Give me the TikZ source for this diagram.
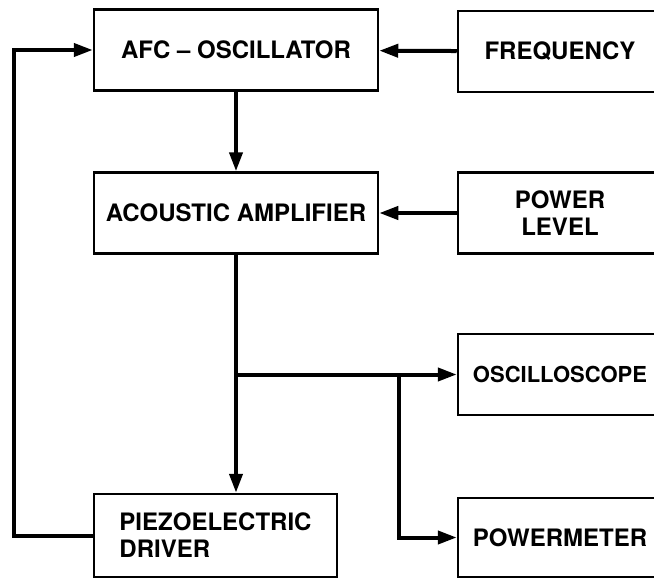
\documentclass[tikz,border=0pt]{standalone}
\usepackage{fontspec}
\setmainfont{TeX Gyre Heros}
\usetikzlibrary{arrows.meta}
\begin{document}
\begin{tikzpicture}[x=1pt,y=-1pt,>={Triangle[length=19pt,width=13pt]},
	box/.style={draw,line width=2.5pt,minimum height=81pt,inner sep=0pt,align=center,font=\bfseries\fontsize{24}{27}\selectfont},
	wire/.style={line width=4pt}]
	\useasboundingbox (0,0) rectangle (654,579);
	\node[box,minimum width=284pt] (afc) at (236,50) {AFC -- OSCILLATOR};
	\node[box,minimum width=284pt] (amp) at (236,213) {ACOUSTIC AMPLIFIER};
	\node[box,minimum width=243pt,minimum height=83pt,align=left] (piezo) at (215.5,535.5) {PIEZOELECTRIC\\DRIVER};
	\node[box,minimum width=204pt] (freq) at (560,51.5) {FREQUENCY};
	\node[box,minimum width=204pt] (level) at (560,213) {POWER\\LEVEL};
	\node[box,minimum width=204pt,font=\bfseries\fontsize{22}{27}\selectfont] (scope) at (560,374.5) {OSCILLOSCOPE};
	\node[box,minimum width=204pt,minimum height=79pt] (meter) at (560,537.5) {POWERMETER};
	\coordinate (split) at (amp.south |- scope.west);
	\coordinate (tap) at (399,374.5);
	\draw[wire,->] (freq) -- (afc);
	\draw[wire,->] (level) -- (amp);
	\draw[wire,->] (afc) -- (amp);
	\draw[wire,->] (amp.south) -- (amp.south |- piezo.north);
	\draw[wire,->] (split) -- (scope.west);
	\draw[wire,->] (tap) |- (meter.west);
	\draw[wire,->] (piezo.west) -- ++(-79,0) |- (afc.west);
\end{tikzpicture}
\end{document}
